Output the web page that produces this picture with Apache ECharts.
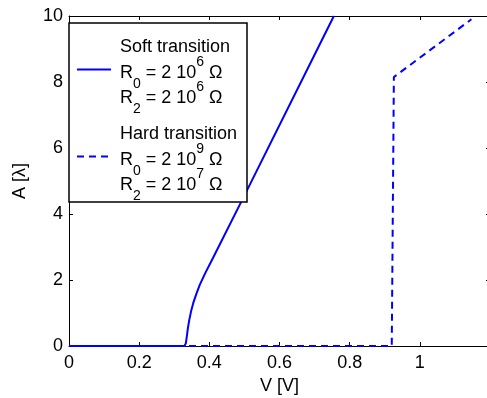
<!DOCTYPE html>
<html>
<head>
<meta charset="utf-8">
<script src="https://cdn.jsdelivr.net/npm/echarts@6/dist/echarts.min.js"></script>
<style>
  html, body { margin: 0; padding: 0; background: #fff; }
  #chart { width: 487px; height: 398px; }
</style>
</head>
<body>
<div id="chart"></div>
<script>
// soft transition curve (R0 = R2 = 2e6)
const softV = [0, 0.2, 0.329, 0.333, 0.336, 0.339, 0.343, 0.348, 0.355, 0.363, 0.373, 0.388, 0.41, 0.508, 0.755];
const softA = [0, 0, 0, 0.08, 0.3, 0.55, 0.8, 1.05, 1.33, 1.58, 1.86, 2.2, 2.66, 4.73, 10];
// hard transition curve (R0 = 2e9, R2 = 2e7)
const hardV = [0, 0.5, 0.92, 0.926, 1.147];
const hardA = [0, 0, 0, 8.15, 9.9];

const xTickLabels = ["0", "0.2", "0.4", "0.6", "0.8", "1", ""];
const yTickLabels = ["0", "2", "4", "6", "8", "10"];

const FONT = "'Liberation Sans', Arial, sans-serif";
const BLUE = "#0000ff";

const chart = echarts.init(document.getElementById("chart"));

//框的边和刻度
const axisLine = { show: true, onZero: false, lineStyle: { color: "#000", width: 1 } };
const axisTick = { show: true, inside: true, length: 4, lineStyle: { color: "#000", width: 1 } };

// rich text for legend lines with sub/superscripts
const rich = {
  n: { fontSize: 18, fontFamily: FONT, color: "#000", lineHeight: 36, verticalAlign: "middle" },
  sub: { fontSize: 14, fontFamily: FONT, color: "#000", lineHeight: 9, verticalAlign: "bottom" },
  sup: { fontSize: 14, fontFamily: FONT, color: "#000", lineHeight: 25, verticalAlign: "top" },
};
function rLine(idx, exp, y) {
  return {
    type: "text",
    left: 120,
    top: y - 18,
    z: 101,
    style: {
      text: "{n|R}{sub|" + idx + "}{n| = 2 10}{sup|" + exp + "}{n| Ω}",
      rich: rich,
    },
  };
}
function plainLine(txt, y) {
  return {
    type: "text",
    left: 120,
    top: y - 10,
    z: 101,
    style: { text: txt, fontSize: 18, fontFamily: FONT, fill: "#000" },
  };
}

const option = {
  animation: false,
  backgroundColor: "#fff",
  grid: { left: 69, top: 16, width: 421, bottom: 52, outerBoundsMode: "none", containLabel: false },
  xAxis: [
    {
      type: "value",
      min: 0,
      max: 1.2,
      interval: 0.2,
      name: "V [V]",
      nameLocation: "middle",
      nameGap: 27,
      nameTextStyle: { fontSize: 18, fontFamily: FONT, color: "#000" },
      axisLine: axisLine,
      axisTick: axisTick,
      splitLine: { show: false },
      axisLabel: {
        fontSize: 18,
        fontFamily: FONT,
        color: "#000",
        margin: 8,
        formatter: (v) => xTickLabels[Math.round(v / 0.2)],
      },
    },
    {
      type: "value",
      position: "top",
      min: 0,
      max: 1.2,
      interval: 0.2,
      axisLine: axisLine,
      axisTick: axisTick,
      axisLabel: { show: false },
      splitLine: { show: false },
    },
  ],
  yAxis: [
    {
      type: "value",
      min: 0,
      max: 10,
      interval: 2,
      name: "A [λ]",
      nameLocation: "middle",
      nameGap: 40,
      nameTextStyle: { fontSize: 18, fontFamily: FONT, color: "#000" },
      axisLine: axisLine,
      axisTick: axisTick,
      splitLine: { show: false },
      axisLabel: {
        fontSize: 18,
        fontFamily: FONT,
        color: "#000",
        margin: 6,
        formatter: (v) => yTickLabels[Math.round(v / 2)],
      },
    },
    {
      type: "value",
      position: "right",
      min: 0,
      max: 10,
      interval: 2,
      axisLine: axisLine,
      axisTick: axisTick,
      axisLabel: { show: false },
      splitLine: { show: false },
    },
  ],
  series: [
    {
      name: "Soft transition",
      type: "line",
      showSymbol: false,
      clip: true,
      lineStyle: { color: BLUE, width: 2 },
      data: softV.map((v, i) => [v, softA[i]]),
      z: 3,
    },
    {
      name: "Hard transition",
      type: "line",
      showSymbol: false,
      clip: true,
      lineStyle: { color: BLUE, width: 2, type: [7, 5] },
      data: hardV.map((v, i) => [v, hardA[i]]),
      z: 2,
    },
  ],
  graphic: [
    {
      type: "rect",
      z: 100,
      shape: { x: 69, y: 23, width: 178, height: 179 },
      style: { fill: "#fff", stroke: "#000", lineWidth: 1.5 },
    },
    {
      type: "line",
      z: 101,
      shape: { x1: 77, y1: 69.5, x2: 111, y2: 69.5 },
      style: { stroke: BLUE, lineWidth: 2 },
    },
    {
      type: "line",
      z: 101,
      shape: { x1: 77, y1: 156.5, x2: 111, y2: 156.5 },
      style: { stroke: BLUE, lineWidth: 2, lineDash: [7, 5] },
    },
    plainLine("Soft transition", 48),
    rLine(0, 6, 73),
    rLine(2, 6, 98),
    plainLine("Hard transition", 135),
    rLine(0, 9, 160),
    rLine(2, 7, 185),
  ],
};

chart.setOption(option);
</script>
</body>
</html>
